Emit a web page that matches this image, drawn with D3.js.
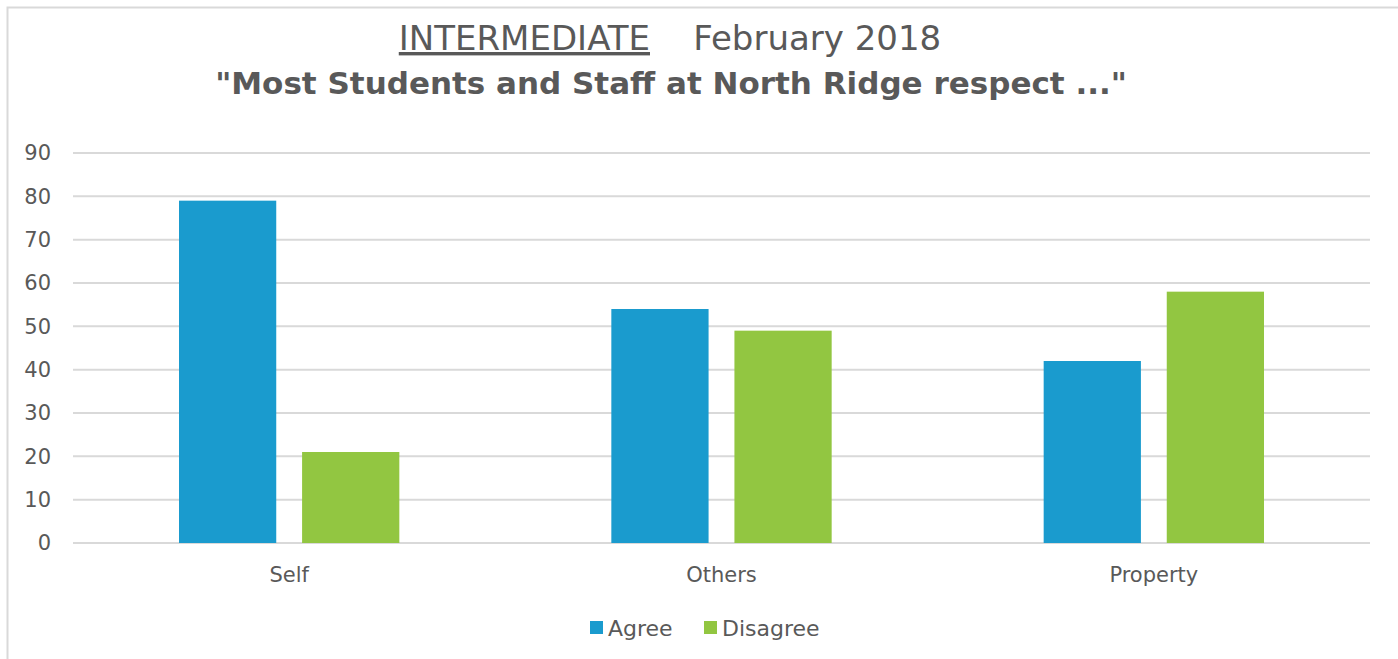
<!DOCTYPE html>
<html lang="en">
<head>
<meta charset="UTF-8">
<title>North Ridge respect</title>
<script src="https://d3js.org/d3.v7.min.js"></script>
<style>
  body { margin: 0; background: #fff; }
  text { font-family: "Century Gothic", "DejaVu Sans", sans-serif; fill: #595959; }
</style>
</head>
<body>
<div id="chart"></div>
<script>
const categories = ["Self", "Others", "Property"];
const seriesNames = ["Agree", "Disagree"];
const agree = [79, 54, 42];
const disagree = [21, 49, 58];
const yTicks = [0, 10, 20, 30, 40, 50, 60, 70, 80, 90];
const colors = ["#1a9bce", "#92c641"];

const W = 1398, H = 659;
const margin = { top: 153, right: 28, bottom: 116, left: 73 };
const width = W - margin.left - margin.right;
const height = H - margin.top - margin.bottom;

const svg = d3.select("#chart").append("svg")
  .attr("width", W).attr("height", H);

// outer frame
svg.append("rect")
  .attr("x", 7.5).attr("y", 7.5)
  .attr("width", W).attr("height", H)
  .attr("fill", "none").attr("stroke", "#d9d9d9").attr("stroke-width", 2);

// titles
const t1 = svg.append("text").attr("x", W / 2 - 29).attr("y", 50)
  .attr("text-anchor", "middle").style("font-size", "34px");
t1.append("tspan").attr("text-decoration", "underline").text("INTERMEDIATE");
t1.append("tspan").text("\u00a0\u00a0\u00a0\u00a0February 2018");

svg.append("text").attr("x", W / 2 - 28).attr("y", 94)
  .attr("text-anchor", "middle").style("font-size", "31px").style("font-weight", "bold")
  .text("\"Most Students and Staff at North Ridge respect ...\"");

const g = svg.append("g").attr("transform", `translate(${margin.left},${margin.top})`);

const x0 = d3.scaleBand().domain(categories).range([0, width]);
const x1 = d3.scaleBand().domain(seriesNames).range([106, x0.bandwidth() - 106]).paddingInner(0.21);
const y = d3.scaleLinear().domain([0, 90]).range([height, 0]);

// gridlines
g.append("g").selectAll("line").data(yTicks).enter().append("line")
  .attr("x1", 0).attr("x2", width)
  .attr("y1", d => y(d)).attr("y2", d => y(d))
  .attr("stroke", "#d9d9d9").attr("stroke-width", 2);

// y labels
const yAxis = g.append("g").call(d3.axisLeft(y).tickValues(yTicks).tickSize(0).tickPadding(22));
yAxis.select(".domain").remove();
yAxis.selectAll("text").style("font-size", "21px").attr("fill", "#595959");

// x labels
const xAxis = g.append("g").attr("transform", `translate(0,${height})`)
  .call(d3.axisBottom(x0).tickSize(0).tickPadding(24));
xAxis.select(".domain").remove();
xAxis.selectAll("text").style("font-size", "21px").attr("fill", "#595959");

// bars
const rows = categories.map((c, i) => ({ cat: c, vals: [agree[i], disagree[i]] }));
const grp = g.selectAll(".cat").data(rows).enter().append("g")
  .attr("transform", d => `translate(${x0(d.cat)},0)`);
grp.selectAll("rect").data(d => d.vals.map((v, k) => ({ key: seriesNames[k], v, k })))
  .enter().append("rect")
  .attr("x", d => x1(d.key)).attr("width", x1.bandwidth())
  .attr("y", d => y(d.v)).attr("height", d => y(0) - y(d.v))
  .attr("fill", d => colors[d.k]);

// legend
const legX = [590, 704];
const leg = svg.selectAll(".legend").data(seriesNames).enter().append("g")
  .attr("transform", (d, i) => `translate(${legX[i]},621)`);
leg.append("rect").attr("width", 13).attr("height", 13).attr("fill", (d, i) => colors[i]);
leg.append("text").attr("x", 18).attr("y", 7).attr("dy", "0.35em")
  .style("font-size", "22px").text(d => d);
</script>
</body>
</html>
